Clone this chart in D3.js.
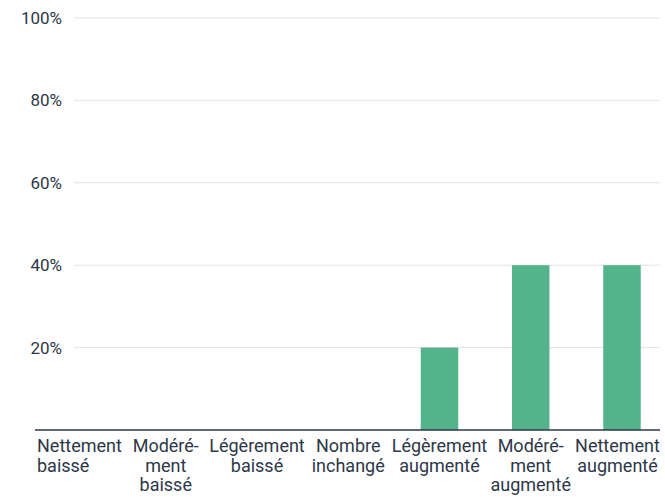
<!DOCTYPE html>
<html><head><meta charset="utf-8">
<script src="https://cdn.jsdelivr.net/npm/d3@7"></script>
<style>body{margin:0;background:#fff;} svg{display:block;font-family:Roboto,sans-serif;}</style>
</head><body>
<script>
const categories = [
  ["Nettement","baissé"],
  ["Modéré-","ment","baissé"],
  ["Légèrement","baissé"],
  ["Nombre","inchangé"],
  ["Légèrement","augmenté"],
  ["Modéré-","ment","augmenté"],
  ["Nettement","augmenté"]
];
const values = [0, 0, 0, 0, 20, 40, 40];
const yTicks = [20, 40, 60, 80, 100];

const W = 665, H = 497;
const svg = d3.select("body").append("svg").attr("width", W).attr("height", H);
const idx = d3.range(categories.length);
const x = d3.scaleBand().domain(idx).range([28.9, 667.6]).paddingInner(0.589).paddingOuter(0.2945);
const y = d3.scaleLinear().domain([0, 100]).range([430, 18]);
const textColor = "#2d3748";

// gridlines + y labels
const yAxis = d3.axisLeft(y).tickValues(yTicks).tickSize(0).tickFormat(d => d + "%");
const gy = svg.append("g").attr("transform", "translate(62,0)").call(yAxis);
gy.select(".domain").remove();
gy.selectAll("text").attr("x", 0).attr("fill", textColor).style("font-size", "17px").style("font-family", "Roboto");
svg.append("g").selectAll("line").data(yTicks).join("line")
  .attr("x1", 74).attr("x2", 660).attr("y1", d => y(d)).attr("y2", d => y(d))
  .attr("stroke", "#e2e2e2").attr("stroke-width", 1);

// bars
svg.append("g").selectAll("rect").data(idx.filter(i => values[i] > 0)).join("rect")
  .attr("x", i => x(i)).attr("width", x.bandwidth())
  .attr("y", i => y(values[i])).attr("height", i => y(0) - y(values[i]))
  .attr("fill", "#53b48b");

// baseline
svg.append("line").attr("x1", 35).attr("x2", 660).attr("y1", y(0)).attr("y2", y(0))
  .attr("stroke", textColor).attr("stroke-width", 1.5);

// x labels
const gx = svg.append("g");
idx.forEach(i => {
  let cx = x(i) + x.bandwidth() / 2;
  const t = gx.append("text").attr("text-anchor", "middle")
    .attr("fill", textColor).style("font-size", "18px");
  categories[i].forEach((line, k) => {
    t.append("tspan").attr("x", cx).attr("y", 452 + k * 19.5).text(line);
  });
  const w = t.node().getBBox().width;
  if (cx - w / 2 < 37) {
    t.attr("text-anchor", "start").selectAll("tspan").attr("x", 37);
  } else if (cx + w / 2 > 660) {
    cx = 660 - w / 2;
    t.selectAll("tspan").attr("x", cx);
  }
});
</script>
</body></html>
